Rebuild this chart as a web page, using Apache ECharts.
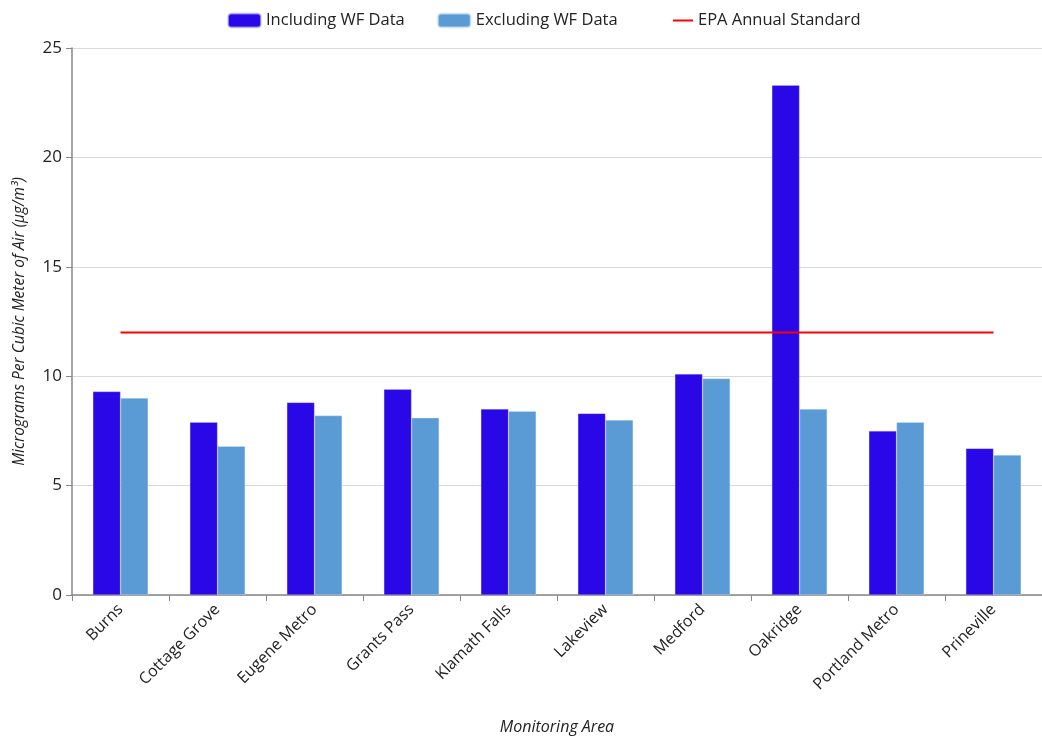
<!DOCTYPE html>
<html>
<head>
<meta charset="utf-8">
<script src="https://cdn.jsdelivr.net/npm/echarts@6/dist/echarts.min.js"></script>
<style>
  html, body { margin: 0; padding: 0; background: #fff; }
  #chart { width: 1042px; height: 740px; }
</style>
</head>
<body>
<div id="chart"></div>
<script>
var areas = ['Burns', 'Cottage Grove', 'Eugene Metro', 'Grants Pass', 'Klamath Falls',
             'Lakeview', 'Medford', 'Oakridge', 'Portland Metro', 'Prineville'];
var includingWF = [9.3, 7.9, 8.8, 9.4, 8.5, 8.3, 10.1, 23.3, 7.5, 6.7];
var excludingWF = [9.0, 6.8, 8.2, 8.1, 8.4, 8.0, 9.9, 8.5, 7.9, 6.4];
var epaStandard = [12, 12, 12, 12, 12, 12, 12, 12, 12, 12];
var yTicks = [0, 5, 10, 15, 20, 25];

var font = '"Open Sans", "Noto Sans", sans-serif';
var chart = echarts.init(document.getElementById('chart'));

chart.setOption({
    animation: false,
    textStyle: { fontFamily: font },
    legend: [{
        top: 7,
        left: 222,
        itemWidth: 33,
        itemHeight: 14,
        itemGap: 32,
        textStyle: { fontSize: 16.5, color: '#222', fontFamily: font },
        data: ['Including WF Data', 'Excluding WF Data']
    }, {
        top: 7,
        left: 668,
        itemWidth: 20,
        itemHeight: 14,
        textStyle: { fontSize: 16.5, color: '#222', fontFamily: font },
        data: [{ name: 'EPA Annual Standard', icon: 'path://M0,0H20V2H0Z' }]
    }],
    grid: { left: 72, right: -4, top: 48, bottom: 144 },
    xAxis: {
        type: 'category',
        data: areas,
        name: 'Monitoring Area',
        nameLocation: 'middle',
        nameGap: 124,
        nameTextStyle: { fontStyle: 'italic', fontSize: 16, color: '#222' },
        axisLine: { lineStyle: { color: '#888', width: 1.5 } },
        axisTick: { show: true, alignWithLabel: false, length: 6, lineStyle: { color: '#888' } },
        axisLabel: { rotate: 45, fontSize: 16, color: '#222', margin: 12, interval: 0 }
    },
    yAxis: {
        type: 'value',
        min: yTicks[0],
        max: yTicks[yTicks.length - 1],
        interval: yTicks[1] - yTicks[0],
        name: 'Micrograms Per Cubic Meter of Air (\u00b5g/m\u00b3)',
        nameLocation: 'middle',
        nameGap: 44,
        nameTextStyle: { fontStyle: 'italic', fontSize: 15.5, color: '#222' },
        axisLine: { show: true, lineStyle: { color: '#888', width: 1.5 } },
        axisTick: { show: true, length: 6, lineStyle: { color: '#888' } },
        axisLabel: { fontSize: 17, color: '#222', margin: 10 },
        splitLine: { lineStyle: { color: '#d9d9d9', width: 1 } }
    },
    series: [{
        name: 'Including WF Data',
        type: 'bar',
        data: includingWF,
        barGap: '0%',
        barCategoryGap: '43%',
        itemStyle: { color: '#2a07e6', borderColor: 'rgba(200,200,255,0.6)', borderWidth: 0.5 }
    }, {
        name: 'Excluding WF Data',
        type: 'bar',
        data: excludingWF,
        itemStyle: { color: '#5b9bd5', borderColor: 'rgba(220,235,250,0.7)', borderWidth: 0.5 }
    }, {
        name: 'EPA Annual Standard',
        type: 'line',
        data: epaStandard,
        symbol: 'none',
        lineStyle: { color: '#ff0000', width: 2 },
        itemStyle: { color: '#ff0000' }
    }]
});
</script>
</body>
</html>
